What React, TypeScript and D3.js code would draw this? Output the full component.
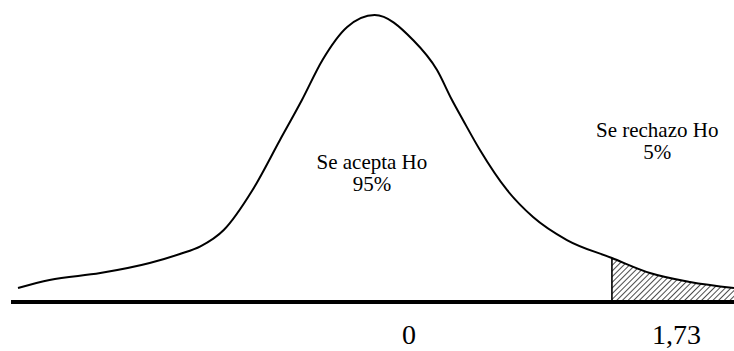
import React from 'react';
import * as d3 from 'd3';

// curve: z value and density height
const zValues = [-2.6, -2.37, -2.0, -1.64, -1.42, -1.27, -1.1, -0.89, -0.69, -0.53, -0.38, -0.2, 0,
  0.28, 0.455, 0.564, 0.644, 0.768, 0.965, 1.155, 1.402, 1.73, 2.007, 2.299, 2.62];
const density = [0.0195, 0.0307, 0.0404, 0.0544, 0.0669, 0.0775, 0.1003, 0.1561, 0.2258, 0.2815, 0.3373, 0.3833, 0.4,
  0.3652, 0.3233, 0.2815, 0.2537, 0.2118, 0.1561, 0.1185, 0.0864, 0.0613, 0.0404, 0.0279, 0.0195];

const critical = 1.73;
const tickLabels = ['0', '1,73'];
const regionLabels = [
  { lines: ['Se acepta Ho', '95%'], z: -0.02, h: 0.185 },
  { lines: ['Se rechazo Ho', '5%'], z: 2.06, h: 0.2296 },
];

const W = 734, H = 351;

export default function App() {
  const x = d3.scaleLinear().domain([-2.6, 2.62]).range([18, 734]);
  const y = d3.scaleLinear().domain([0, 0.4]).range([302, 15]);

  const pts: [number, number][] = zValues.map((z, i) => [z, density[i]]);
  const line = d3.line<[number, number]>()
    .x(d => x(d[0]))
    .y(d => y(d[1]))
    .curve(d3.curveMonotoneX);

  const tail = pts.filter(d => d[0] >= critical);
  const area = d3.area<[number, number]>()
    .x(d => x(d[0]))
    .y0(y(0))
    .y1(d => y(d[1]))
    .curve(d3.curveMonotoneX);

  const font = '"Liberation Serif", "Times New Roman", serif';

  return (
    <svg width={W} height={H} style={{ position: 'absolute', left: 0, top: 0 }}>
      <defs>
        <pattern id="hatch" width="4" height="4" patternUnits="userSpaceOnUse" patternTransform="rotate(45)">
          <line x1="0" y1="0" x2="0" y2="4" stroke="#000" strokeWidth="1.4" />
        </pattern>
      </defs>
      <rect width={W} height={H} fill="#fff" />
      <path d={area(tail) || ''} fill="url(#hatch)" />
      <line x1={x(critical)} x2={x(critical)} y1={y(0)} y2={y(density[zValues.indexOf(critical)])}
        stroke="#000" strokeWidth={1.6} />
      <path d={line(pts) || ''} fill="none" stroke="#000" strokeWidth={2} />
      <line x1={11} x2={W} y1={y(0)} y2={y(0)} stroke="#000" strokeWidth={4} />

      {regionLabels.map((r, i) => (
        <text key={i} x={x(r.z)} y={y(r.h)} textAnchor="middle" fontFamily={font} fontSize={21} fill="#000">
          {r.lines.map((l, j) => (
            <tspan key={j} x={x(r.z)} dy={j === 0 ? 0 : 22}>{l}</tspan>
          ))}
        </text>
      ))}

      <text x={x(0.25)} y={344} textAnchor="middle" fontFamily={font} fontSize={28} fill="#000">{tickLabels[0]}</text>
      <text x={x(2.2)} y={344} textAnchor="middle" fontFamily={font} fontSize={28} fill="#000">{tickLabels[1]}</text>
    </svg>
  );
}
